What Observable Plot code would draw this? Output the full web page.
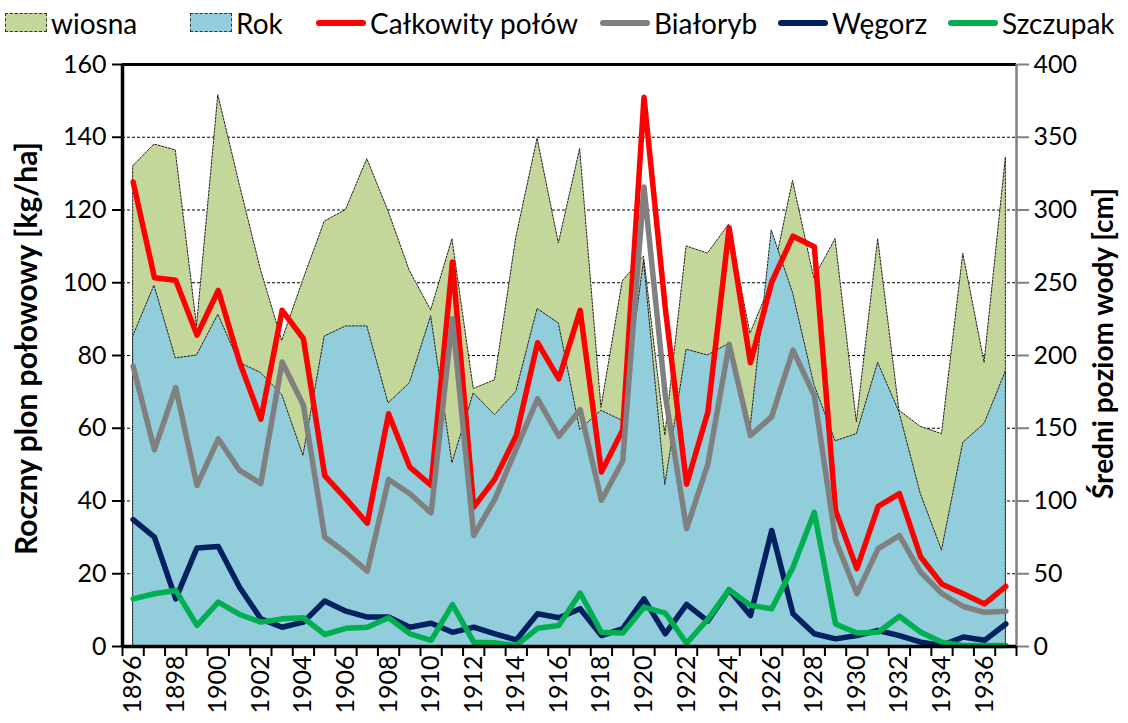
<!DOCTYPE html>
<html>
<head>
<meta charset="utf-8">
<script src="https://cdn.jsdelivr.net/npm/d3@7"></script>
<script src="https://cdn.jsdelivr.net/npm/@observablehq/plot@0.6"></script>
<style>
  html, body { margin: 0; padding: 0; background: #fff; }
  body { width: 1128px; height: 723px; overflow: hidden; font-family: Lato, "Open Sans", sans-serif; }
  #legend { position: relative; width: 1128px; height: 45px; }
  .item { position: absolute; top: 0; height: 45px; display: flex; align-items: center; font-size: 28px; color: #000; white-space: nowrap; }
  .sw { width: 42px; height: 19px; border: 1px dashed #333; box-sizing: border-box; margin-right: 4px; }
  .ln { width: 50px; height: 6px; border-radius: 3px; margin-right: 4px; }
  #chart svg { display: block; }
</style>
</head>
<body>
<div id="legend"></div>
<div id="chart"></div>
<script>
// ---- data ----
const years = [1896,1897,1898,1899,1900,1901,1902,1903,1904,1905,1906,1907,1908,1909,1910,1911,1912,1913,1914,1915,1916,1917,1918,1919,1920,1921,1922,1923,1924,1925,1926,1927,1928,1929,1930,1931,1932,1933,1934,1935,1936,1937];

// water level [cm] (right axis)
const wiosna = [330,345,341,220,379,318,259,210,252,292,300,335,299,258,231,280,177,183,281,349,277,342,164,251,268,145,275,270,290,215,250,320,253,280,154,280,162,151,146,270,195,336];
const rok    = [213,248,198,200,228,195,188,173,131,213,220,220,167,181,227,126,174,159,175,232,222,149,162,155,265,111,204,200,208,149,286,243,180,141,146,195,161,105,66,140,153,189];

// catches [kg/ha] (left axis)
const calkowity = [127.7,101.4,100.7,85.6,97.9,78.2,62.5,92.4,84.6,47.0,40.6,33.9,64.0,49.3,44.3,105.7,38.3,46.1,58.0,83.5,73.6,92.4,48.0,59.5,151.0,93.0,44.6,64.4,115.1,78.0,100.2,112.8,109.9,37.4,21.4,38.5,42.0,24.6,17.1,14.5,11.7,16.5];
const bialoryb  = [77.0,54.1,71.2,44.3,57.1,48.4,44.8,78.2,66.3,30.1,25.7,20.7,45.9,42.0,36.7,90.1,30.5,40.6,54.4,68.1,57.8,65.1,40.2,51.0,126.3,69.0,32.4,50.1,83.1,58.0,63.2,81.5,69.0,29.2,14.5,26.9,30.5,20.4,14.5,11.0,9.4,9.7];
const wegorz    = [34.9,30.1,13.1,27.1,27.5,16.3,7.6,5.3,6.7,12.5,9.7,8.1,8.1,5.3,6.4,3.9,5.3,3.5,1.8,9.0,7.9,10.4,3.0,4.9,13.1,3.5,11.6,7.0,15.6,8.5,31.9,9.0,3.5,2.1,3.0,4.4,3.0,1.2,0.3,2.6,1.7,6.2];
const szczupak  = [13.1,14.5,15.4,5.8,12.2,8.8,6.7,7.6,7.9,3.3,5.0,5.3,7.9,3.5,1.7,11.5,1.2,1.0,0.3,5.0,5.8,14.7,3.9,3.7,10.8,9.2,0.9,7.5,15.6,11.3,10.4,21.8,36.9,6.2,3.7,3.9,8.3,3.9,1.2,0.3,0.3,0.3];

const leftTicks  = [0,20,40,60,80,100,120,140,160];
const rightTicks = [0,50,100,150,200,250,300,350,400];
const yearLabels = years.filter(y => y % 2 === 0);

const seriesNames = ["wiosna","Rok","Całkowity połów","Białoryb","Węgorz","Szczupak"];
const leftTitle  = "Roczny plon połowowy [kg/ha]";
const rightTitle = "Średni poziom wody [cm]";

// ---- styles ----
const colors = {
  "wiosna": "#C4D79B",
  "Rok": "#92CDDC",
  "Całkowity połów": "#FF0000",
  "Białoryb": "#808080",
  "Węgorz": "#002060",
  "Szczupak": "#00B050"
};
const RATIO = rightTicks[rightTicks.length - 1] / leftTicks[leftTicks.length - 1]; // cm per kg/ha unit

// ---- legend ----
const legendX = [5, 190, 316, 600, 778, 948];
const legend = document.getElementById("legend");
seriesNames.forEach((name, i) => {
  const it = document.createElement("div");
  it.className = "item";
  it.style.left = legendX[i] + "px";
  const mk = document.createElement("div");
  mk.className = i < 2 ? "sw" : "ln";
  mk.style.background = colors[name];
  it.appendChild(mk);
  const t = document.createElement("span");
  t.textContent = name;
  it.appendChild(t);
  legend.appendChild(it);
});

// ---- chart ----
const x0 = years[0] - 0.5, x1 = years[years.length - 1] + 0.5;
const boundaries = d3.range(x0, x1 + 0.01, 1);
const lineOpts = (arr, name) => ({x: d => d, y: (d, i) => arr[i], stroke: colors[name], strokeWidth: 5.5, strokeLinejoin: "round", strokeLinecap: "round"});

const chart = Plot.plot({
  width: 1128,
  height: 678,
  marginLeft: 122,
  marginRight: 112,
  marginTop: 19,
  marginBottom: 77,
  x: {domain: [x0, x1]},
  y: {domain: [leftTicks[0], leftTicks[leftTicks.length - 1]]},
  style: {fontFamily: "Lato, 'Open Sans', sans-serif", fontSize: "25px", color: "#000", background: "#fff", overflow: "visible"},
  marks: [
    Plot.gridY(leftTicks.slice(1, -1), {stroke: "#000", strokeOpacity: 1, strokeWidth: 1, strokeDasharray: "3,2"}),
    Plot.areaY(years, {x: d => d, y: (d, i) => wiosna[i] / RATIO, fill: colors["wiosna"], stroke: "#222", strokeWidth: 1, strokeDasharray: "2,1.5"}),
    Plot.areaY(years, {x: d => d, y: (d, i) => rok[i] / RATIO, fill: colors["Rok"], stroke: "#222", strokeWidth: 1, strokeDasharray: "2,1.5"}),
    Plot.line(years, lineOpts(calkowity, "Całkowity połów")),
    Plot.line(years, lineOpts(bialoryb, "Białoryb")),
    Plot.line(years, lineOpts(wegorz, "Węgorz")),
    Plot.line(years, lineOpts(szczupak, "Szczupak")),
    Plot.ruleY([leftTicks[leftTicks.length - 1]], {stroke: "#000", strokeWidth: 3}),
    Plot.ruleX([x1], {stroke: "#808080", strokeWidth: 2.5}),
    Plot.ruleY([0], {stroke: "#000", strokeWidth: 3.5}),
    Plot.ruleX([x0], {stroke: "#000", strokeWidth: 3.5}),
    Plot.axisY(leftTicks, {anchor: "left", tickSize: 10, tickPadding: 6, strokeWidth: 2, stroke: "#000", label: null, fontSize: 25}),
    Plot.axisY(rightTicks.map(v => v / RATIO), {anchor: "right", tickSize: 12, tickPadding: 5, strokeWidth: 2, stroke: "#808080", fill: "#000", label: null, fontSize: 25, tickFormat: d => String(Math.round(d * RATIO))}),
    Plot.axisX(boundaries, {anchor: "bottom", tickSize: 10, strokeWidth: 2, stroke: "#000", tickFormat: () => "", label: null}),
    Plot.axisX(yearLabels, {anchor: "bottom", tickSize: 0, tickPadding: 9, tickRotate: -90, tickFormat: d => String(d), label: null, fontSize: 25}),
    Plot.text([leftTitle], {text: d => d, frameAnchor: "left", dx: -95, dy: -7, rotate: -90, fontWeight: "bold", fontSize: 30, textAnchor: "middle"}),
    Plot.text([rightTitle], {text: d => d, frameAnchor: "right", dx: 88, dy: -12, rotate: -90, fontWeight: "bold", fontSize: 28, textAnchor: "middle"})
  ]
});
document.getElementById("chart").appendChild(chart);
</script>
</body>
</html>
